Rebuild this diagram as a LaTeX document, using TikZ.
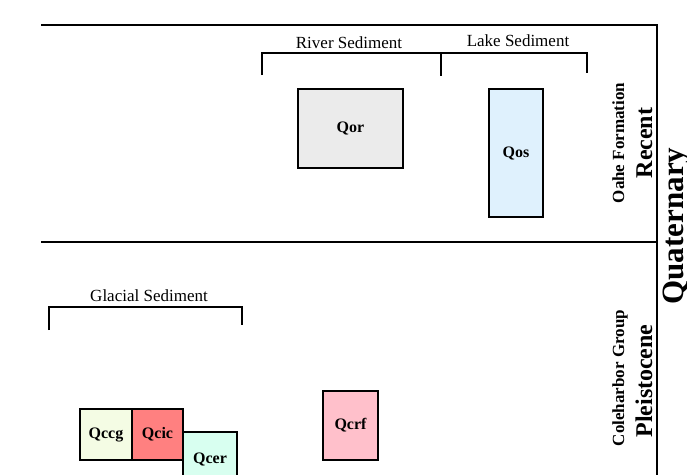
\documentclass[tikz,border=0pt]{standalone}
\usepackage{fontspec}
\setmainfont{Liberation Serif}
\usepackage{tikz}

\definecolor{qor}{HTML}{EBEBEB}
\definecolor{qos}{HTML}{DFF1FD}
\definecolor{qccg}{HTML}{F4FCE4}
\definecolor{qcic}{HTML}{FF8080}
\definecolor{qcer}{HTML}{D8FFF0}
\definecolor{qcrf}{HTML}{FFC0CB}

\begin{document}
\begin{tikzpicture}[x=1pt,y=-1pt,
  unit/.style={draw,line width=1.6pt,inner sep=0pt,font=\fontsize{16}{16}\bfseries},
  brk/.style={line width=2pt},
  sedlab/.style={anchor=base,inner sep=0pt,font=\fontsize{17}{17}\selectfont},
  agelab/.style={rotate=90,anchor=base,inner sep=0pt}]
\useasboundingbox (0,0) rectangle (687,474);
%Построение рамки
\draw[line width=2pt](41,25)--(657,25)--(657,480);
\draw[line width=2pt](41,242)--(657,242);
%скобки и подписи
\node[sedlab] (river) at (349,48) {River Sediment};
\node[sedlab] (lake) at (518,46) {Lake Sediment};
\node[sedlab] (glacial) at (149,301) {Glacial Sediment};
\draw[brk](262,75)--(262,53)--(587,53)--(587,73);
\draw[brk](441,53)--(441,76);
\draw[brk](49,330)--(49,307)--(242,307)--(242,325);
%построение блоков
\node[unit,fill=qor,minimum width=105,minimum height=79] (Qor) at (350.5,128.5) {Qor};
\node[unit,fill=qos,minimum width=54,minimum height=128] (Qos) at (516,153) {Qos};
\node[unit,fill=qccg,minimum width=52,minimum height=51] (Qccg) at (106,434.5) {Qccg};
\node[unit,fill=qcic,minimum width=51,minimum height=51] (Qcic) at (157.5,434.5) {Qcic};
\node[unit,fill=qcer,minimum width=54,minimum height=54] (Qcer) at (210,459) {Qcer};
\node[unit,fill=qcrf,minimum width=55,minimum height=69] (Qcrf) at (350.5,425.5) {Qcrf};
%подписи справа
\node[agelab,font=\fontsize{17}{17}\bfseries] (oahe) at (624,143) {Oahe Formation};
\node[agelab,font=\fontsize{24}{24}\bfseries] (recent) at (652,143) {Recent};
\node[agelab,font=\fontsize{17}{17}\bfseries] (cole) at (624,378) {Coleharbor Group};
\node[agelab,font=\fontsize{24}{24}\bfseries] (pleist) at (652,381) {Pleistocene};
\node[agelab,font=\fontsize{31}{31}\bfseries] (quat) at (683,226) {Quaternary};
\end{tikzpicture}
\end{document}
